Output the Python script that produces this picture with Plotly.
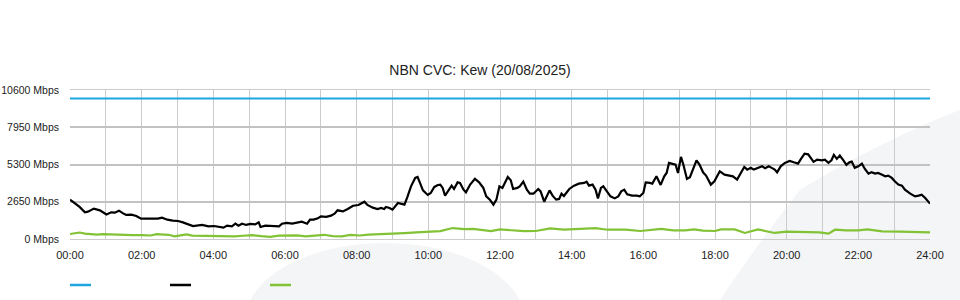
import plotly.graph_objects as go

# ---------------- data ----------------
# minutes after midnight, Mbps
total_t = [0, 8, 16, 25, 30, 40, 50, 61, 69, 75, 82, 89, 94, 103, 111, 119, 131, 141, 147, 154,
           163, 172, 181, 189, 198, 206, 221, 232, 241, 249, 257, 263, 271, 277, 282, 288, 295, 302,
           310, 316, 319, 327, 335, 344, 350, 355, 363, 372, 380, 388, 397, 402, 408, 415, 420, 429,
           437, 443, 448, 457, 465, 474, 483, 487, 493, 498, 507, 515, 521, 526, 529, 535, 540, 549,
           554, 560, 565, 571, 578, 582, 586, 591, 599, 604, 610, 616, 620, 624, 628, 633, 639, 643,
           649, 653, 659, 663, 670, 678, 685, 692, 697, 703, 709, 714, 719, 724, 728, 733, 738, 742,
           749, 753, 759, 765, 770, 776, 784, 788, 794, 798, 803, 808, 814, 819, 823, 827, 836, 844,
           852, 861, 865, 869, 875, 880, 884, 889, 893, 899, 905, 912, 918, 923, 928, 933, 941, 949,
           954, 960, 964, 971, 975, 982, 989, 995, 999, 1003, 1008, 1014, 1018, 1023, 1027, 1033,
           1038, 1049, 1054, 1060, 1065, 1073, 1079, 1088, 1096, 1105, 1110, 1117, 1123, 1129, 1134,
           1140, 1145, 1152, 1159, 1164, 1170, 1175, 1180, 1184, 1190, 1197, 1205, 1212, 1219, 1224,
           1230, 1236, 1240, 1245, 1251, 1259, 1264, 1270, 1275, 1279, 1284, 1289, 1295, 1300, 1305,
           1309, 1314, 1320, 1326, 1331, 1337, 1342, 1348, 1353, 1359, 1365, 1370, 1376, 1381, 1387,
           1393, 1398, 1407, 1415, 1421, 1426, 1432, 1440]
total_v = [2800, 2565, 2280, 1895, 1945, 2160, 2040, 1750, 1895, 1875, 2015, 1825, 1710, 1730, 1640,
           1445, 1445, 1495, 1445, 1515, 1375, 1305, 1280, 1180, 1040, 920, 1000, 900, 925, 855, 805,
           950, 900, 1090, 950, 1090, 1000, 1070, 1040, 1180, 855, 950, 950, 900, 900, 1090, 1140,
           1090, 1180, 1230, 1090, 1375, 1375, 1470, 1610, 1570, 1660, 1800, 2040, 1965, 2135, 2370,
           2420, 2515, 2655, 2420, 2230, 2135, 2210, 2135, 2280, 2210, 2090, 2565, 2515, 2445, 2990,
           3745, 4345, 4415, 3990, 3460, 3135, 3275, 3705, 3845, 3870, 3635, 3085, 3390, 3795, 3560,
           4030, 3990, 3510, 3320, 3870, 4275, 4030, 3635, 3035, 2800, 2445, 2800, 3745, 3635, 3990,
           4415, 4175, 3560, 3635, 3745, 4080, 3510, 3225, 3225, 3560, 3390, 2655, 2990, 3460, 3085,
           2800, 2850, 3225, 3060, 3560, 3795, 3940, 3990, 4080, 3795, 3870, 3510, 2890, 3635, 3745,
           3390, 3035, 2890, 3035, 3390, 3510, 3180, 3085, 3085, 3035, 3275, 4030, 3990, 3940, 4460,
           3845, 4460, 4700, 5415, 5340, 5295, 4700, 5840, 5295, 4275, 4400, 5600, 5295, 4745, 4510,
           3870, 4105, 4815, 4580, 4510, 4460, 4225, 4700, 5130, 4935, 5060, 4935, 5060, 5170, 5030,
           5170, 5060, 4935, 4745, 5170, 5415, 5555, 5455, 5365, 5700, 6075, 6025, 5790, 5490, 5650,
           5600, 5650, 5415, 5600, 5985, 5700, 5935, 5600, 5270, 5455, 5505, 5060, 5170, 5365, 4985,
           4650, 4745, 4650, 4700, 4580, 4460, 4510, 4345, 4105, 3870, 3795, 3510, 3225, 3035, 3085,
           3155, 2920, 2515]

upload_t = [0, 8, 16, 25, 35, 45, 55, 65, 75, 90, 105, 120, 135, 145, 155, 165, 175, 185, 195, 205,
            220, 235, 250, 262, 275, 290, 305, 320, 335, 350, 365, 380, 395, 410, 425, 440, 455, 470,
            485, 500, 520, 540, 560, 580, 600, 620, 641, 660, 675, 690, 705, 720, 740, 760, 780, 804,
            827, 845, 860, 880, 900, 930, 955, 975, 990, 1010, 1030, 1045, 1060, 1080, 1090, 1113,
            1130, 1152, 1165, 1180, 1200, 1230, 1255, 1270, 1281, 1300, 1320, 1335, 1360, 1390, 1420,
            1440]
upload_v = [355, 400, 460, 380, 330, 310, 350, 330, 290, 280, 280, 270, 250, 350, 320, 300, 190, 250,
            330, 240, 230, 230, 200, 220, 180, 230, 280, 200, 150, 240, 250, 260, 190, 260, 300, 200,
            190, 290, 250, 310, 330, 380, 420, 470, 520, 560, 780, 700, 720, 640, 560, 680, 600, 560,
            570, 750, 660, 700, 780, 780, 660, 660, 570, 640, 715, 620, 610, 680, 590, 570, 680, 680,
            430, 680, 560, 430, 520, 520, 470, 380, 660, 610, 610, 680, 540, 520, 470, 470]

capacity_t = [0, 1440]
capacity_v = [10000, 10000]

y_ticks = [0, 2650, 5300, 7950, 10600]
hour_ticks = list(range(0, 1441, 60))
hour_labels = ["00:00", "", "02:00", "", "04:00", "", "06:00", "", "08:00", "", "10:00", "",
               "12:00", "", "14:00", "", "16:00", "", "18:00", "", "20:00", "", "22:00", "", "24:00"]

# ---------------- layout geometry ----------------
W, H = 960, 300
ML, MR, MT, MB = 70, 30, 90, 61
PW, PH = W - ML - MR, H - MT - MB


def px(x):
    return (x - ML) / PW


def py(y):
    return (H - MB - y) / PH


FONT = "Liberation Sans, Arial, sans-serif"

fig = go.Figure()
fig.add_trace(go.Scatter(x=capacity_t, y=capacity_v, mode="lines",
                         line=dict(color="#1fa5e0", width=2), name=" "))
fig.add_trace(go.Scatter(x=total_t, y=total_v, mode="lines",
                         line=dict(color="#000000", width=2.2), name=" "))
fig.add_trace(go.Scatter(x=upload_t, y=upload_v, mode="lines",
                         line=dict(color="#82c235", width=2.2), name=" "))

shapes = []
# faint watermark shapes behind the chart
shapes.append(dict(type="circle", xref="paper", yref="paper", layer="below",
                   x0=px(245), x1=px(525), y0=py(243), y1=py(400),
                   fillcolor="#f4f5f7", line=dict(width=0)))
p = [(720, 300), (760, 240), (800, 190), (870, 145), (960, 110), (960, 300)]
path = "M {},{} C {},{} {},{} {},{} S {},{} {},{} L {},{} Z".format(
    px(p[0][0]), py(p[0][1]), px(p[1][0]), py(p[1][1]), px(p[2][0]), py(p[2][1]),
    px(p[2][0]), py(p[2][1]), px(p[3][0]), py(p[3][1]), px(p[4][0]), py(p[4][1]),
    px(p[5][0]), py(p[5][1]))
shapes.append(dict(type="path", xref="paper", yref="paper", layer="below", path=path,
                   fillcolor="#f4f5f7", line=dict(width=0)))

# legend swatches (no text in the reference)
for col, x0 in [("#1fa5e0", 70), ("#000000", 170), ("#82c235", 270)]:
    shapes.append(dict(type="line", xref="paper", yref="paper",
                       x0=px(x0), x1=px(x0 + 21), y0=py(285), y1=py(285),
                       line=dict(color=col, width=2.5)))

fig.update_layout(
    width=W, height=H,
    margin=dict(l=ML, r=MR, t=MT, b=MB, autoexpand=False),
    paper_bgcolor="white", plot_bgcolor="rgba(0,0,0,0)",
    showlegend=False,
    font=dict(family=FONT, size=11, color="#222222"),
    title=dict(text="NBN CVC: Kew (20/08/2025)", x=0.5, xanchor="center",
               y=1 - 70 / H, yanchor="middle", yref="container",
               font=dict(family=FONT, size=14, color="#222222")),
    shapes=shapes,
)
fig.update_xaxes(range=[0, 1440], tickmode="array", tickvals=hour_ticks, ticktext=hour_labels,
                 showgrid=True, gridcolor="#cccccc", gridwidth=1, zeroline=False,
                 showline=True, mirror=True, linecolor="#cccccc", linewidth=1,
                 ticks="outside", ticklen=6, tickcolor="rgba(0,0,0,0)", automargin=False,
                 tickfont=dict(size=11), fixedrange=True)
fig.update_yaxes(range=[0, 10600], tickmode="array", tickvals=y_ticks,
                 ticktext=[f"{v} Mbps" for v in y_ticks],
                 showgrid=True, gridcolor="#c2c2c2", gridwidth=2, zeroline=False,
                 showline=False, ticks="", ticklabelstandoff=10, automargin=False,
                 tickfont=dict(size=10.5), fixedrange=True)

fig.write_html("out.html")
